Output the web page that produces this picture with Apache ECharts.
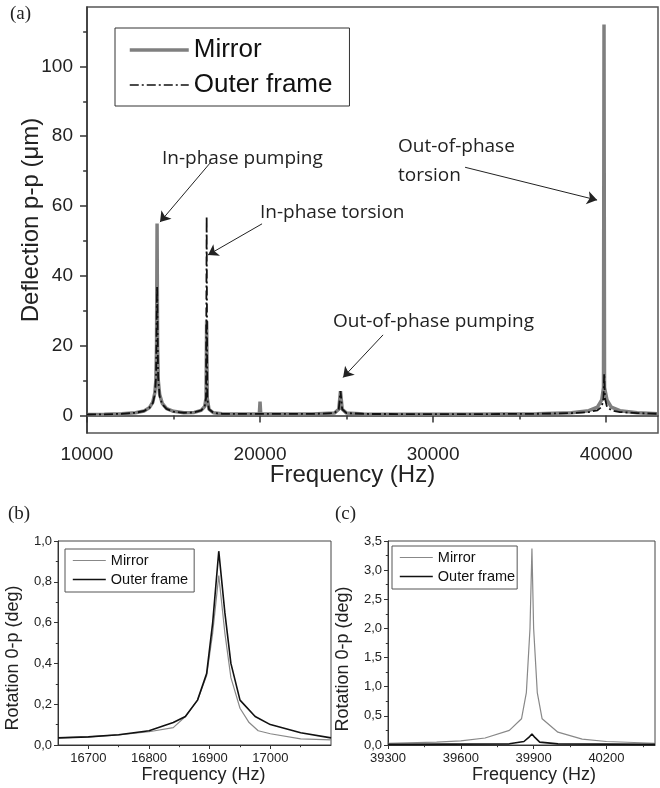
<!DOCTYPE html>
<html>
<head>
<meta charset="utf-8">
<script src="https://cdn.jsdelivr.net/npm/echarts@6/dist/echarts.min.js"></script>
<style>
  html, body { margin: 0; padding: 0; background: #fff; }
  #chart { width: 660px; height: 788px; }
</style>
</head>
<body>
<div id="chart"></div>
<script>
// ---- panel (a): full spectrum, [frequency Hz, deflection um] ----
var mirrorA = [
    [10000, 0.3], [11000, 0.35], [12000, 0.5], [12800, 0.8], [13300, 1.3], [13600, 2.2],
    [13800, 3.8], [13920, 6.5], [13980, 10], [14020, 20], [14050, 55], [14080, 20],
    [14120, 10], [14200, 6], [14350, 3.5], [14600, 2], [15000, 1.2], [15600, 0.8],
    [16200, 0.9], [16600, 1.5], [16800, 2.6], [16880, 5], [16915, 27], [16950, 5],
    [17050, 1.8], [17300, 0.8], [17800, 0.5], [19960, 0.45], [20000, 4], [20040, 0.45],
    [23000, 0.45], [24300, 0.7], [24550, 1.8], [24650, 7], [24750, 1.8], [25000, 0.7],
    [26000, 0.45], [32000, 0.4], [36000, 0.5], [38000, 0.8], [39000, 1.4], [39500, 2.4],
    [39750, 4.5], [39850, 8], [39880, 112], [39910, 8], [40050, 4.5], [40300, 2.4],
    [40800, 1.4], [41800, 0.8], [43000, 0.5]
];
var frameA = [
    [10000, 0.3], [11000, 0.35], [12000, 0.5], [12800, 0.8], [13300, 1.3], [13600, 2.2],
    [13800, 3.5], [13920, 6], [13990, 11], [14050, 37], [14110, 11], [14200, 5.5],
    [14350, 3.2], [14600, 1.9], [15000, 1.1], [15600, 0.8], [16200, 0.9], [16600, 1.5],
    [16800, 2.6], [16880, 5], [16915, 57], [16950, 5], [17050, 1.8], [17300, 0.8],
    [17800, 0.5], [23000, 0.45], [24300, 0.7], [24550, 1.8], [24650, 7], [24750, 1.8],
    [25000, 0.7], [26000, 0.45], [32000, 0.4], [36000, 0.5], [38000, 0.7], [39000, 1.0],
    [39500, 1.5], [39750, 2.5], [39850, 5], [39890, 12], [39930, 5], [40050, 2.5],
    [40300, 1.5], [40800, 1.0], [41800, 0.7], [43000, 0.5]
];

// ---- panel (b): in-phase torsion, [frequency Hz, rotation deg] ----
var mirrorB = [
    [16650, 0.035], [16700, 0.04], [16750, 0.05], [16800, 0.065], [16840, 0.085],
    [16860, 0.14], [16880, 0.22], [16895, 0.34], [16905, 0.55], [16915, 0.83],
    [16925, 0.55], [16935, 0.33], [16950, 0.18], [16965, 0.11], [16980, 0.07],
    [17000, 0.055], [17050, 0.03], [17100, 0.025]
];
var frameB = [
    [16650, 0.035], [16700, 0.04], [16750, 0.05], [16800, 0.07], [16840, 0.11],
    [16860, 0.14], [16880, 0.22], [16895, 0.35], [16905, 0.6], [16915, 0.95],
    [16925, 0.65], [16935, 0.4], [16950, 0.22], [16975, 0.14], [17000, 0.1],
    [17050, 0.06], [17100, 0.035]
];

// ---- panel (c): out-of-phase torsion ----
var mirrorC = [
    [39300, 0.03], [39500, 0.05], [39600, 0.07], [39700, 0.12], [39800, 0.25],
    [39850, 0.45], [39870, 0.9], [39885, 2.0], [39893, 3.37], [39900, 2.0],
    [39915, 0.9], [39935, 0.45], [40000, 0.22], [40100, 0.1], [40200, 0.06],
    [40400, 0.03]
];
var frameC = [
    [39300, 0.01], [39800, 0.02], [39860, 0.06], [39880, 0.13], [39893, 0.19],
    [39905, 0.13], [39925, 0.05], [40000, 0.02], [40400, 0.01]
];

// ---- tick labels ----
var aXTicks = [10000, 20000, 30000, 40000];
var aXMinor = [15000, 25000, 35000];
var aYTicks = [0, 20, 40, 60, 80, 100];
var aYMinor = [10, 30, 50, 70, 90, 110];
var bXTicks = [16700, 16800, 16900, 17000];
var bXMinor = [16750, 16850, 16950, 17050];
var bYTicks = [0, 0.2, 0.4, 0.6, 0.8, 1.0];
var bYMinor = [0.1, 0.3, 0.5, 0.7, 0.9];
var cXTicks = [39300, 39600, 39900, 40200];
var cXMinor = [39450, 39750, 40050, 40350];
var cYTicks = [0, 0.5, 1.0, 1.5, 2.0, 2.5, 3.0, 3.5];
var cYMinor = [0.25, 0.75, 1.25, 1.75, 2.25, 2.75, 3.25];

// annotations of panel (a): text and arrow [from, to] in data coords
var notes = [
    { text: 'In-phase pumping', left: 162, top: 144, from: [17110, 72.3], to: [14220, 55.4] },
    { text: 'In-phase torsion', left: 260, top: 198, from: [20116, 54.9], to: [16994, 46] },
    { text: 'Out-of-phase\ntorsion', left: 398, top: 132, from: [31850, 71.1], to: [39480, 61.7] },
    { text: 'Out-of-phase pumping', left: 333, top: 307, from: [27110, 23.1], to: [24800, 10.9] }
];

var SANS = '"Liberation Sans", Arial, sans-serif';
var SERIF = '"Liberation Serif", "DejaVu Serif", serif';
var NOTE_FONT = '"Open Sans", sans-serif';

var mychart = echarts.init(document.getElementById('chart'));

function comma(v) {
    return v.toFixed(1).replace('.', ',');
}

// one main axis + one overlapping axis for the short minor ticks
function makeAxes(kind, grid, min, max, ticks, minor, o) {
    var main = {
        type: 'value', gridIndex: grid, min: min, max: max,
        position: kind === 'x' ? 'bottom' : 'left',
        axisLine: { show: true, lineStyle: { color: '#333', width: o.lw } },
        axisTick: { show: true, inside: false, length: o.tick, customValues: ticks,
            lineStyle: { color: '#333', width: o.lw } },
        axisLabel: { show: true, customValues: ticks, margin: o.margin,
            fontFamily: SANS, fontSize: o.fs, color: '#222',
            formatter: o.fmt },
        splitLine: { show: false },
        name: o.name || '', nameLocation: 'middle', nameGap: o.gap, nameMoveOverlap: false,
        nameTextStyle: { fontFamily: SANS, fontSize: o.nfs, color: '#222', padding: o.npad || 0 }
    };
    var sub = {
        type: 'value', gridIndex: grid, min: min, max: max,
        position: kind === 'x' ? 'bottom' : 'left',
        axisLine: { show: false },
        axisTick: { show: true, inside: false, length: o.tick * 0.55, customValues: minor,
            lineStyle: { color: '#333', width: o.lw } },
        axisLabel: { show: false },
        splitLine: { show: false }
    };
    return [main, sub];
}

function plain(v) {
    return v;
}

var ax = [];
ax.push(makeAxes('x', 0, 10000, 43000, aXTicks, aXMinor,
    { lw: 1.5, tick: 7, margin: 12, fs: 19, fmt: plain,
      name: 'Frequency (Hz)', gap: 30, nfs: 24, npad: [0, 40, 0, 0] }));
ax.push(makeAxes('y', 0, -5, 117, aYTicks, aYMinor,
    { lw: 1.5, tick: 7, margin: 14, fs: 19, fmt: plain,
      name: 'Deflection p-p (\u03bcm)', gap: 44, nfs: 24 }));
ax.push(makeAxes('x', 1, 16650, 17100, bXTicks, bXMinor,
    { lw: 1, tick: 4, margin: 7, fs: 13, fmt: plain,
      name: 'Frequency (Hz)', gap: 21, nfs: 18, npad: [0, 0, 0, 18] }));
ax.push(makeAxes('y', 1, 0, 1.0, bYTicks, bYMinor,
    { lw: 1, tick: 4, margin: 6, fs: 13, fmt: comma, gap: 0, nfs: 17 }));
ax.push(makeAxes('x', 2, 39300, 40400, cXTicks, cXMinor,
    { lw: 1, tick: 4, margin: 7, fs: 13, fmt: plain,
      name: 'Frequency (Hz)', gap: 21, nfs: 18, npad: [0, 0, 0, 25] }));
ax.push(makeAxes('y', 2, 0, 3.5, cYTicks, cYMinor,
    { lw: 1, tick: 4, margin: 6, fs: 13, fmt: comma, gap: 0, nfs: 17 }));

var xAxis = [].concat(ax[0], ax[2], ax[4]);
var yAxis = [].concat(ax[1], ax[3], ax[5]);

var dashDot = [9, 3, 2, 3];
var noDot = { opacity: 0 };

var graphics = [
    { type: 'text', left: 10, top: 5, style: { text: '(a)', font: '19px ' + SERIF, fill: '#222' } },
    { type: 'text', left: 8, top: 505, style: { text: '(b)', font: '19px ' + SERIF, fill: '#222' } },
    { type: 'text', left: 335, top: 505, style: { text: '(c)', font: '19px ' + SERIF, fill: '#222' } },
    // y titles of the small panels sit a bit below the middle of the axis
    { type: 'text', x: 13, y: 658, rotation: Math.PI / 2,
      style: { text: 'Rotation 0-p (deg)', font: '18px ' + SANS, fill: '#222', align: 'center', verticalAlign: 'middle' } },
    { type: 'text', x: 343, y: 659, rotation: Math.PI / 2,
      style: { text: 'Rotation 0-p (deg)', font: '18px ' + SANS, fill: '#222', align: 'center', verticalAlign: 'middle' } }
];
notes.forEach(function (n) {
    graphics.push({ type: 'text', left: n.left, top: n.top,
        style: { text: n.text, font: '19px ' + NOTE_FONT, fill: '#222', lineHeight: 29 } });
});

var option = {
    animation: false,
    backgroundColor: '#fff',
    grid: [
        { left: 87, top: 7, width: 571, height: 426, show: true, borderColor: '#555', borderWidth: 1.5 },
        { left: 58, top: 541, width: 273, height: 204, show: true, borderColor: '#444', borderWidth: 1 },
        { left: 388, top: 541, width: 267, height: 204, show: true, borderColor: '#444', borderWidth: 1 }
    ],
    xAxis: xAxis,
    yAxis: yAxis,
    legend: [
        {
            left: 115, top: 28, orient: 'vertical', padding: [9, 17, 8, 13],
            borderColor: '#333', borderWidth: 1, itemWidth: 59, itemHeight: 14, itemGap: 9,
            textStyle: { fontFamily: SANS, fontSize: 26, color: '#111' },
            data: [
                { name: 'Mirror', itemStyle: noDot, lineStyle: { color: '#7f7f7f', width: 3.5, type: 'solid' } },
                { name: 'Outer frame', itemStyle: noDot, lineStyle: { color: '#111', width: 1.5, type: dashDot } }
            ]
        },
        {
            left: 65, top: 549, orient: 'vertical', padding: [4, 6, 5, 7],
            borderColor: '#555', borderWidth: 1, itemWidth: 33, itemHeight: 10, itemGap: 4,
            textStyle: { fontFamily: SANS, fontSize: 14.5, color: '#111' },
            data: [
                { name: 'Mirror', itemStyle: noDot, lineStyle: { color: '#888', width: 1.2, type: 'solid' } },
                { name: 'Outer frame', itemStyle: noDot, lineStyle: { color: '#111', width: 1.6, type: 'solid' } }
            ]
        },
        {
            left: 392, top: 546, orient: 'vertical', padding: [4, 2, 5, 7],
            borderColor: '#555', borderWidth: 1, itemWidth: 33, itemHeight: 10, itemGap: 4,
            textStyle: { fontFamily: SANS, fontSize: 14.5, color: '#111' },
            data: [
                { name: 'Mirror', itemStyle: noDot, lineStyle: { color: '#888', width: 1.2, type: 'solid' } },
                { name: 'Outer frame', itemStyle: noDot, lineStyle: { color: '#111', width: 1.6, type: 'solid' } }
            ]
        }
    ],
    graphic: graphics,
    series: [
        {
            name: 'Mirror', type: 'line', xAxisIndex: 0, yAxisIndex: 0, symbol: 'none',
            data: mirrorA, lineStyle: { color: '#7f7f7f', width: 3.5 }, itemStyle: { color: '#7f7f7f' }
        },
        {
            name: 'Outer frame', type: 'line', xAxisIndex: 0, yAxisIndex: 0, symbol: 'none',
            data: frameA, lineStyle: { color: '#111', width: 1.8, type: dashDot }, itemStyle: { color: '#111' },
            markLine: {
                silent: true, symbol: ['none', 'arrow'], symbolSize: 10,
                label: { show: false },
                lineStyle: { color: '#222', width: 1, type: 'solid' },
                data: notes.map(function (n) {
                    return [{ coord: n.from }, { coord: n.to }];
                })
            }
        },
        {
            name: 'Mirror', type: 'line', xAxisIndex: 2, yAxisIndex: 2, symbol: 'none',
            data: mirrorB, lineStyle: { color: '#888', width: 1.2 }, itemStyle: { color: '#888' }
        },
        {
            name: 'Outer frame', type: 'line', xAxisIndex: 2, yAxisIndex: 2, symbol: 'none',
            data: frameB, lineStyle: { color: '#111', width: 1.6 }, itemStyle: { color: '#111' }
        },
        {
            name: 'Mirror', type: 'line', xAxisIndex: 4, yAxisIndex: 4, symbol: 'none',
            data: mirrorC, lineStyle: { color: '#888', width: 1.2 }, itemStyle: { color: '#888' }
        },
        {
            name: 'Outer frame', type: 'line', xAxisIndex: 4, yAxisIndex: 4, symbol: 'none',
            data: frameC, lineStyle: { color: '#111', width: 1.6 }, itemStyle: { color: '#111' }
        }
    ]
};
mychart.setOption(option);
</script>
</body>
</html>
